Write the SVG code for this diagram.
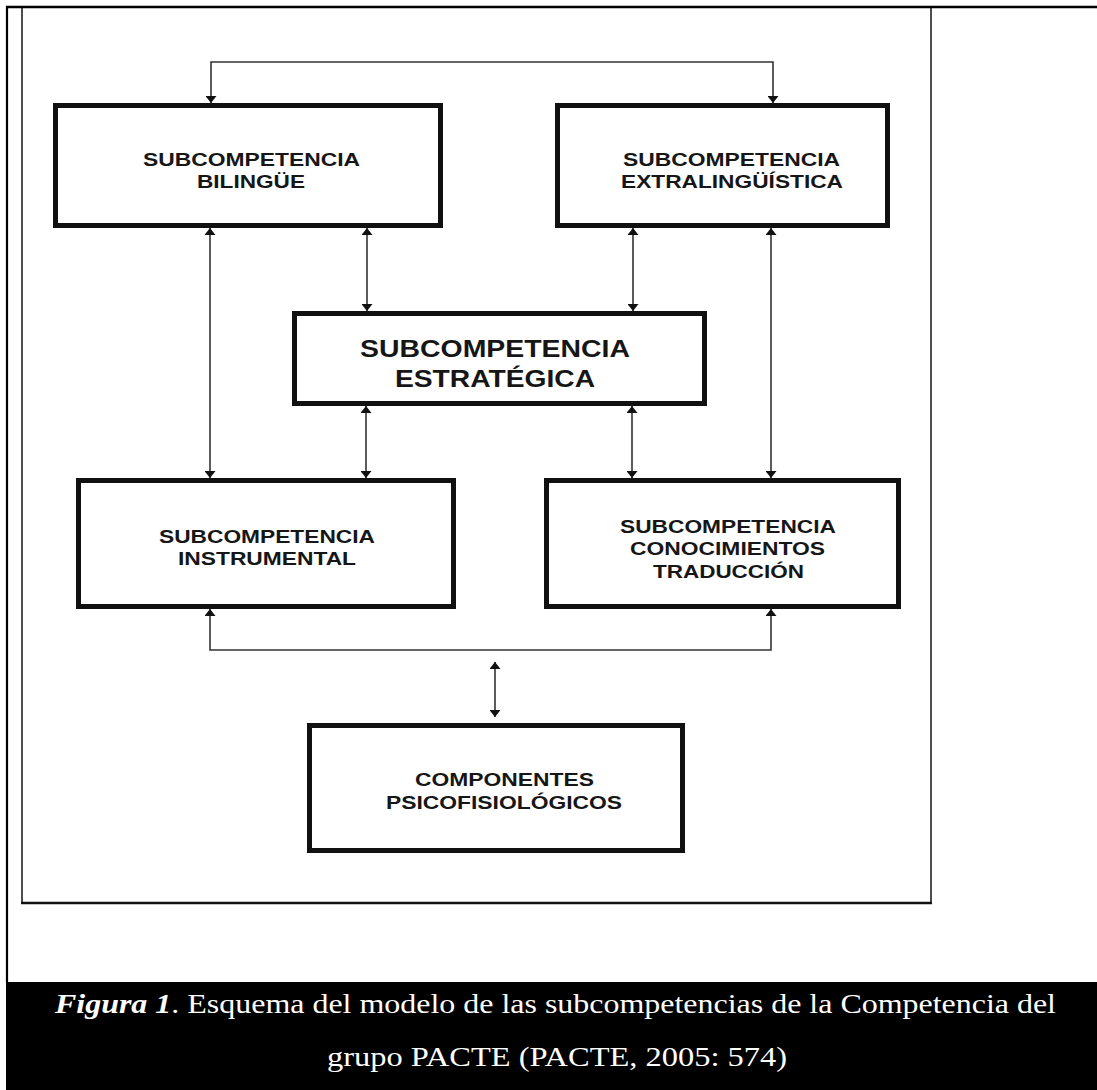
<svg xmlns="http://www.w3.org/2000/svg" width="1097" height="1090" viewBox="0 0 1097 1090">
<style>
.box{fill:#fff;stroke:#111;stroke-width:5}
.lbl{font-family:"Liberation Sans",Arial,sans-serif;font-weight:bold;font-size:19px;fill:#161616}
.big{font-size:23px}
.con{fill:none;stroke:#333;stroke-width:1.6}
.frame{fill:none;stroke:#222}
.cap{font-family:"Liberation Serif","Times New Roman",serif;font-size:28px;fill:#fff}
</style>
<defs>
<marker id="ah" viewBox="0 0 7 11" refX="7" refY="5.5" markerWidth="7" markerHeight="11" markerUnits="userSpaceOnUse" orient="auto-start-reverse">
<path d="M0,0 L7,5.5 L0,11 Z" fill="#111"/>
</marker>
</defs>
<rect width="1097" height="1090" fill="#fff"/>
<g id="frame">
<path class="frame" d="M22,7 V903 H931 V7" stroke-width="1.6"/>
<line x1="21" y1="903" x2="932" y2="903" stroke="#111" stroke-width="2.4"/>
<line x1="6" y1="7" x2="1097" y2="7" stroke="#000" stroke-width="2.4"/>
<line x1="7" y1="6" x2="7" y2="982" stroke="#000" stroke-width="2.2"/>
</g>
<g id="connectors">
<path class="con" d="M211,103 V62 H773 V103" marker-start="url(#ah)" marker-end="url(#ah)"/>
<line class="con" x1="210" y1="228" x2="210" y2="478" marker-start="url(#ah)" marker-end="url(#ah)"/>
<line class="con" x1="367" y1="228" x2="367" y2="311" marker-start="url(#ah)" marker-end="url(#ah)"/>
<line class="con" x1="633" y1="228" x2="633" y2="311" marker-start="url(#ah)" marker-end="url(#ah)"/>
<line class="con" x1="771" y1="228" x2="771" y2="478" marker-start="url(#ah)" marker-end="url(#ah)"/>
<line class="con" x1="366" y1="406" x2="366" y2="478" marker-start="url(#ah)" marker-end="url(#ah)"/>
<line class="con" x1="632" y1="406" x2="632" y2="478" marker-start="url(#ah)" marker-end="url(#ah)"/>
<path class="con" d="M210,609 V650 H771 V609" marker-start="url(#ah)" marker-end="url(#ah)"/>
<line class="con" x1="495" y1="662" x2="495" y2="717" marker-start="url(#ah)" marker-end="url(#ah)"/>
</g>
<g id="bilingue">
<rect class="box" x="55.5" y="105.5" width="385" height="120"/>
<text class="lbl" x="143" y="166" textLength="217" lengthAdjust="spacingAndGlyphs">SUBCOMPETENCIA</text>
<text class="lbl" x="197" y="188" textLength="108" lengthAdjust="spacingAndGlyphs">BILINGÜE</text>
</g>
<g id="extralinguistica">
<rect class="box" x="557.5" y="105.5" width="330" height="120"/>
<text class="lbl" x="623" y="166" textLength="217" lengthAdjust="spacingAndGlyphs">SUBCOMPETENCIA</text>
<text class="lbl" x="621" y="188" textLength="222" lengthAdjust="spacingAndGlyphs">EXTRALINGÜÍSTICA</text>
</g>
<g id="estrategica">
<rect class="box" x="294.5" y="313.5" width="410" height="90"/>
<text class="lbl big" x="360" y="357" textLength="270" lengthAdjust="spacingAndGlyphs">SUBCOMPETENCIA</text>
<text class="lbl big" x="395" y="387" textLength="200" lengthAdjust="spacingAndGlyphs">ESTRATÉGICA</text>
</g>
<g id="instrumental">
<rect class="box" x="78.5" y="480.5" width="375" height="126"/>
<text class="lbl" x="159" y="543" textLength="216" lengthAdjust="spacingAndGlyphs">SUBCOMPETENCIA</text>
<text class="lbl" x="178" y="565" textLength="178" lengthAdjust="spacingAndGlyphs">INSTRUMENTAL</text>
</g>
<g id="conocimientos">
<rect class="box" x="546.5" y="480.5" width="352" height="126"/>
<text class="lbl" x="620" y="533" textLength="216" lengthAdjust="spacingAndGlyphs">SUBCOMPETENCIA</text>
<text class="lbl" x="630" y="555" textLength="195" lengthAdjust="spacingAndGlyphs">CONOCIMIENTOS</text>
<text class="lbl" x="653" y="578" textLength="151" lengthAdjust="spacingAndGlyphs">TRADUCCIÓN</text>
</g>
<g id="componentes">
<rect class="box" x="309.5" y="725.5" width="373" height="125"/>
<text class="lbl" x="415" y="786" textLength="179" lengthAdjust="spacingAndGlyphs">COMPONENTES</text>
<text class="lbl" x="386" y="809" textLength="236" lengthAdjust="spacingAndGlyphs">PSICOFISIOLÓGICOS</text>
</g>
<g id="caption">
<rect x="6" y="982" width="1091" height="108" fill="#000"/>
<text class="cap" x="55" y="1013" textLength="1001" lengthAdjust="spacingAndGlyphs"><tspan font-weight="bold" font-style="italic">Figura 1</tspan>. Esquema del modelo de las subcompetencias de la Competencia del</text>
<text class="cap" x="327" y="1066" textLength="460" lengthAdjust="spacingAndGlyphs">grupo PACTE (PACTE, 2005: 574)</text>
</g>
</svg>
